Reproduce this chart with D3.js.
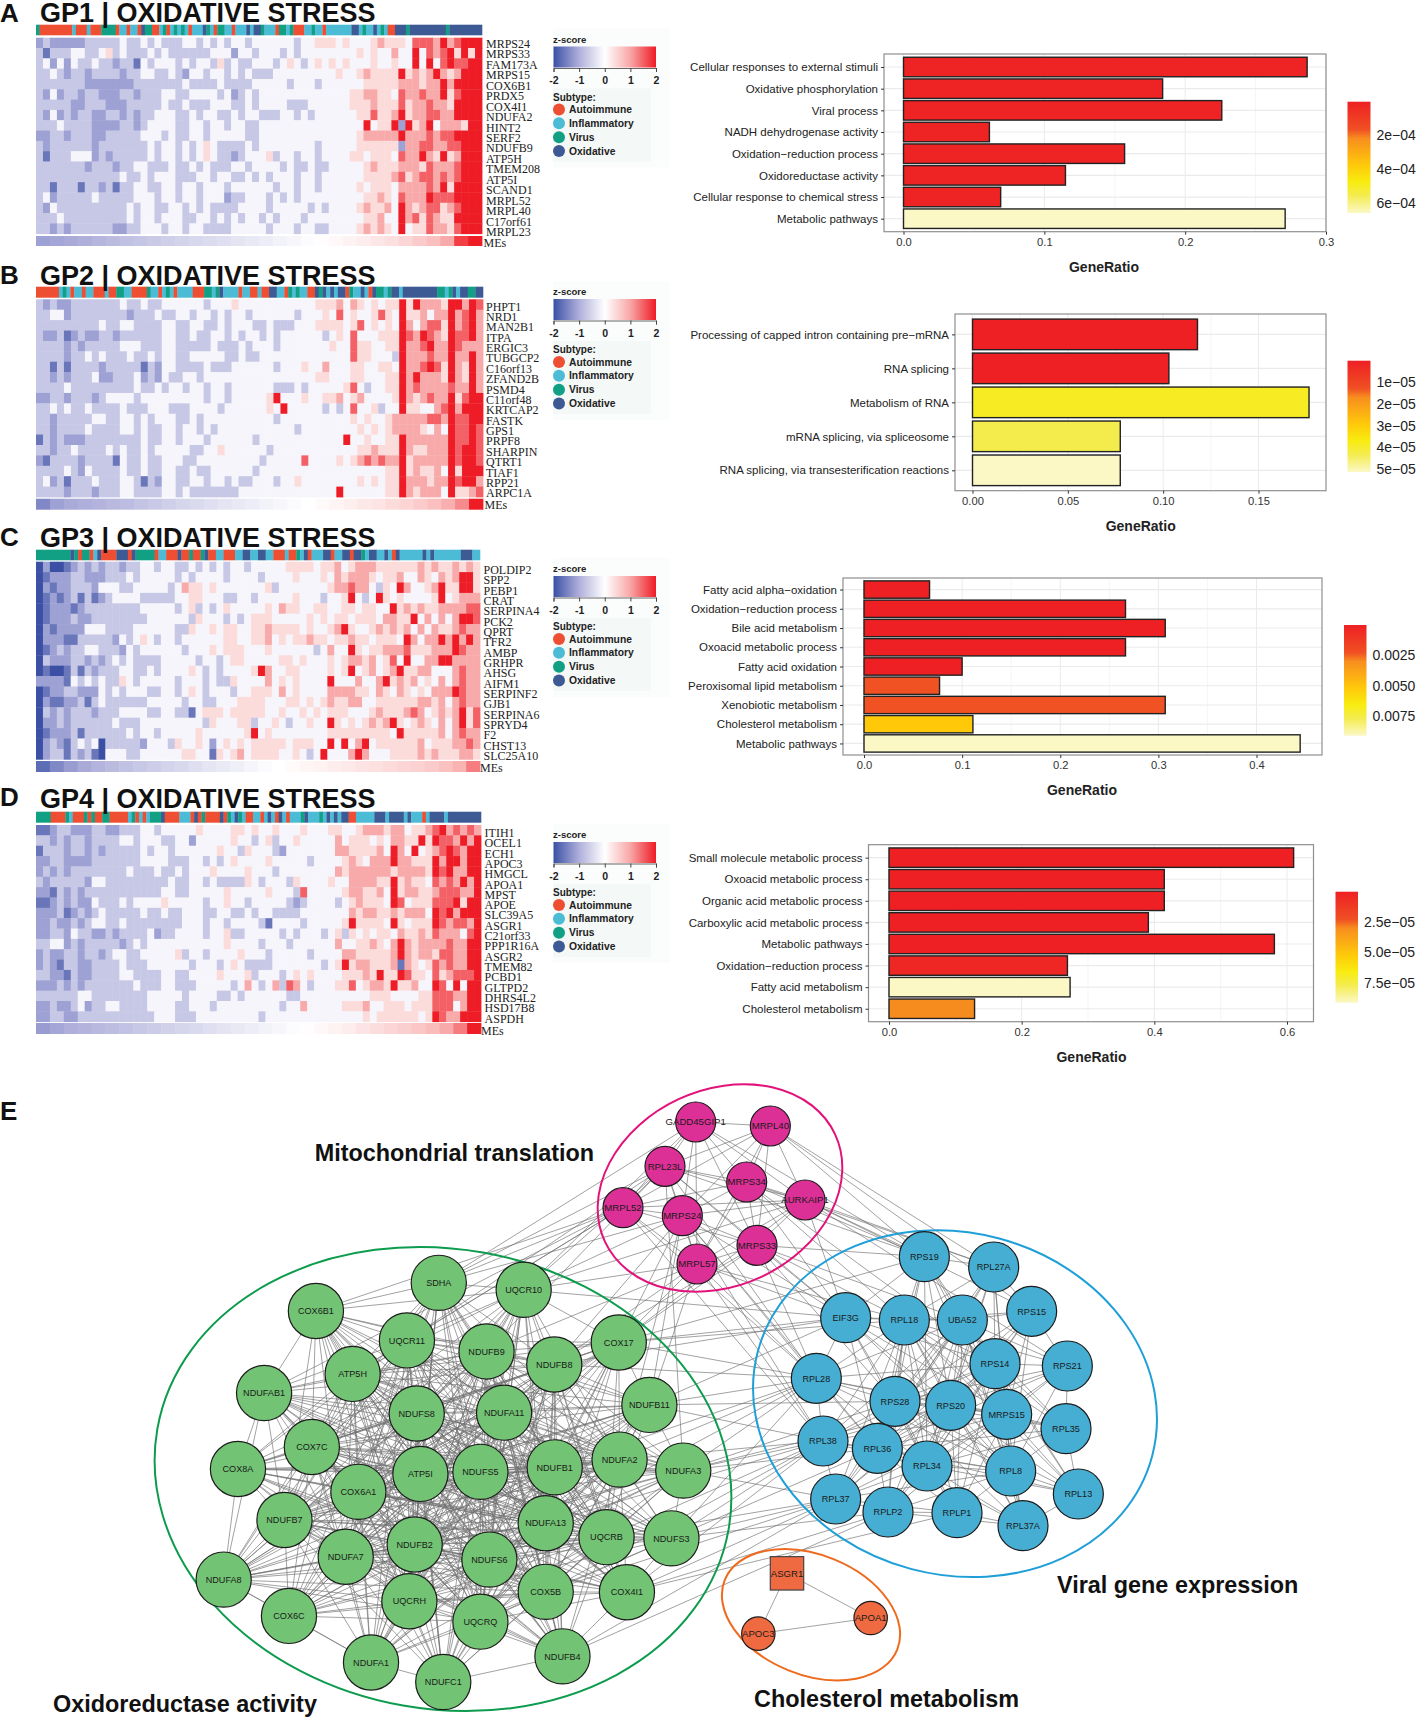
<!DOCTYPE html>
<html><head><meta charset="utf-8">
<script src="https://cdn.jsdelivr.net/npm/d3@7/dist/d3.min.js"></script>
<style>html,body{margin:0;padding:0;background:#fff}svg{display:block}text{font-family:"Liberation Sans",Arial,sans-serif}</style>
</head><body><svg id="c" width="1420" height="1723"></svg>
<script>
// ---------- heatmap data: digits 0..8 index levels of z-score (see zLevels); spaces are only for reading ----------
const zLevels=[-2,-1.6,-1.15,-.7,-.12,.4,.95,1.5,2];
const genesA=["MRPS24","MRPS33","FAM173A","MRPS15","COX6B1","PRDX5","COX4I1","NDUFA2","HINT2","SERF2","NDUFB9","ATP5H","TMEM208","ATP5I","SCAND1","MRPL52","MRPL40","C17orf61","MRPL23"];
const genesB=["PHPT1","NRD1","MAN2B1","ITPA","ERGIC3","TUBGCP2","C16orf13","ZFAND2B","PSMD4","C11orf48","KRTCAP2","FASTK","GPS1","PRPF8","SHARPIN","QTRT1","TIAF1","RPP21","ARPC1A"];
const genesC=["POLDIP2","SPP2","PEBP1","CRAT","SERPINA4","PCK2","QPRT","TFR2","AMBP","GRHPR","AHSG","AIFM1","SERPINF2","GJB1","SERPINA6","SPRYD4","F2","CHST13","SLC25A10"];
const genesD=["ITIH1","OCEL1","ECH1","APOC3","HMGCL","APOA1","MPST","APOE","SLC39A5","ASGR1","C21orf33","PPP1R16A","ASGR2","TMEM82","PCBD1","GLTPD2","DHRS4L2","HSD17B8","ASPDH"];
const heatA=[
"2322222333 3343343433 3443434344 3444444344 5554544456 5554777686 7888",
"3133344334 5343334343 3333344424 4344434344 4444445454 4644847678 5858",
"3424243343 3233143444 3434435343 3444345434 5454544454 4544848478 7788",
"3343233233 3323344334 3244344343 4333444444 4445445655 5585656865 6888",
"3333333222 2222333333 3433334333 3444443444 3444444555 5566656686 8888",
"3242332332 2233233344 3344443423 4344444444 4444455665 5476676685 7888",
"3333322333 2223333343 3433344433 4344443334 4444455565 5575667665 8888",
"3242323322 3323233444 3343443343 4433344343 4444445575 5685667766 8888",
"3334333322 2233234444 3344344344 3344444444 4444444845 5828568466 6588",
"2233233322 3333344434 3344344444 3344444444 4444445666 6686667677 8888",
"3233333323 3333334344 3434543333 4344444444 3444445555 5526677667 7888",
"3133344423 2333334344 3434543323 4445344344 3444455455 5476686585 6888",
"3333333233 3233443334 3343433344 3444434334 3344444565 5566657666 7888",
"3333333333 3343343444 3334434433 4343444344 3444444555 5675677676 7888",
"3313331332 3133443344 3443444344 4444344344 3444445455 5466667685 8888",
"3423333343 3333444344 3443444233 4443434344 4444444556 5476668777 8888",
"3243333333 3334344334 4343433334 4443444443 4344445655 6486567756 7888",
"3334333333 3334344344 4334434343 4434344434 4444444556 4486757655 8888",
"3323233333 3223344434 4344333344 4443444344 3344445656 5484557665 7888"];
const heatB=[
"3232233333 3343343344 4444344454 4444444444 5556465454 5585866658 8687",
"3344233333 3332333433 4434434344 3444444344 4547454457 5485564668 6786",
"3333333334 3344333344 3344334344 4334333444 5555457454 5486467758 6786",
"3223123223 3233333344 3343344343 4434344444 4345474445 5587687658 7786",
"3333232333 3344433344 3333343334 3444344444 4454475544 5586678668 7666",
"3333233434 3334334344 3344444334 3344444444 4444475544 4386667668 6686",
"3313133332 3333313244 3333433344 4444344454 4644455445 5486678758 6586",
"3323233342 2333423243 3443444444 4444444444 5544455444 5586866658 6586",
"3333433333 3333433434 4344344344 4444333434 4444574344 5586766667 6686",
"2233233323 4444344444 4444344344 4445844454 4556456444 4586567668 5788",
"3343433433 3343334443 3344443444 4445484444 4343474453 4485544678 6888",
"3323333344 3344343444 3343444444 4444344444 4444454544 5666667768 7788",
"3323333433 3344343344 3443434444 4444444344 4444445454 5666654648 7787",
"1323222333 3333343344 3444344444 4344444444 4444844544 5586666668 7787",
"3323343333 4343343444 4433445444 4443444444 4444445565 5586556668 7887",
"2133332333 3143343344 4334444444 4434444474 4445456767 6685666668 7887",
"3333432433 3343343344 3343344444 4344444444 4444444444 5585655648 5888",
"3423133343 3344313244 3344344343 3444344544 4444445454 5586665668 7886",
"3333233323 3344333344 3433333334 4444444444 4448444444 5586566648 5567"];
const heatC=[
"0200123232 3323344344 3343434344 3444445555 4556456665 5555565655 6565",
"0122233222 3334344444 3434444344 4434444544 4546566654 5564465465 6885",
"0212233324 4433444443 4655454444 4445344444 4456676643 5486445685 5885",
"0121231312 3444433333 4455444334 4344444544 4344584348 5454444584 5666",
"0122212333 3333344444 3453434544 4445465544 5544554554 4856565566 6677",
"0122232233 3333334444 4435444343 4555444445 4545545554 6655846464 6887",
"0212222444 3333444444 3354454554 4556555545 4456854456 5656464655 6766",
"0222113333 3243454344 3444444554 4556454556 5545565545 5548646686 8686",
"0123233443 3324344444 4344454555 4445444444 3464485455 6667555666 8766",
"0322233232 3434333344 4443443455 4444455454 4454566564 5748446688 6666",
"0100131323 3344334344 4454343444 4586445544 4454584564 5685566444 6766",
"2222143434 3354344444 3444343354 4446454544 4484446446 8565645464 6766",
"0122332224 3434443344 3454344434 4555464544 4466665546 5465454666 8766",
"0211223134 3333334444 4344334445 5554445545 4565566445 5555566564 6766",
"0323233323 3344443344 3314555455 5554454454 5455544456 5556764565 6857",
"0223233333 3433344444 4444354445 5344543445 4485454565 6854565464 6857",
"0122231333 3334344344 4445444444 5845444444 4455555555 5485555564 6766",
"0232134340 3333324443 5445424545 4555554555 4484846845 5555564555 6676",
"0233132310 4443344444 4554415456 4555544543 4844468644 4555565655 5665"];
const heatD=[
"1123322233 2233344344 4445444455 4544544454 4455445666 5664556786 7676",
"3323233233 3344344433 4424444454 4345344544 4446455545 4665585877 6868",
"1333233232 3333343443 4444445443 5444324444 4446655556 4864845678 7688",
"2233222233 3333344443 3344343454 4445444443 4444565466 6866555868 8688",
"2323233333 3334333433 4344454444 5444344444 4446566666 6566665878 6688",
"3233333244 3333333334 3344343333 5434443544 4454466665 5856554767 6868",
"2213232333 3333333344 3344444544 4445444374 4444566556 4856655677 7668",
"1123232243 3343444454 4444344544 3444443234 4443456555 4874555777 8588",
"2223123234 3333343343 3444334433 4344333344 4444465665 5656664878 6888",
"2232232344 3343333333 3444344344 4431444434 4444585555 4854555876 7768",
"2233243322 3233334233 4444344533 4444434344 4345354545 5465565766 6478",
"3344232333 3323434444 4444444544 4434443444 4446445565 4686566667 6688",
"2322332332 3443344444 5344344445 4443444443 4444665555 5686566577 6688",
"2321332233 3343334444 4434443454 3333444444 4345856655 5616545767 6688",
"3322132233 3344333344 3344445444 5344434545 4444555658 5587554756 7778",
"2223232333 3333433344 3334444434 6434637643 4445574566 5855644874 8488",
"3333334433 3333334444 4344443343 4444443344 4444444455 5444455777 6688",
"2232234233 4433334444 3344434444 4444434464 4444555644 5554555777 4688",
"2233223333 3333333444 3334444444 4434444444 4444444545 5555545876 6888"];
// eigengene strip, left to right
const meA=[-1.15,-1.1,-1.05,-1,-.92,-.85,-.78,-.72,-.66,-.6,-.55,-.5,-.45,-.4,-.34,-.28,-.22,-.16,-.1,-.04,.02,.08,.14,.2,.28,.36,.46,.58,.72,.95,1.75,2];
const meB=[-1.4,-1.15,-1.05,-1,-.95,-.88,-.82,-.75,-.68,-.6,-.52,-.46,-.4,-.34,-.28,-.22,-.16,-.1,-.05,0,.06,.12,.18,.26,.32,.4,.48,.58,.72,.9,1.2,2];
const meC=[-1.7,-1.4,-1.2,-1.05,-.95,-.85,-.78,-.7,-.62,-.55,-.48,-.4,-.33,-.26,-.2,-.12,-.05,0,.05,.1,.15,.2,.25,.3,.35,.4,.46,.52,.6,.7,.85,1.3];
const meD=[-1.2,-1.1,-1,-.95,-.88,-.82,-.76,-.7,-.64,-.58,-.52,-.46,-.4,-.34,-.28,-.22,-.16,-.1,-.04,.02,.08,.14,.2,.3,.38,.46,.54,.64,.76,.95,1.3,2];
// subtype annotation: run-length code per strip
const subA="V1 A9 I1 A3 I1 A3 V4 A1 I2 A1 I2 A1 O1 V2 A2 I1 V1 A1 I1 V1 I1 V1 I1 A1 I3 O1 V1 I1 A1 V2 I2 A1 I3 O1 I1 O2 V1 I3 A1 V2 I1 V1 A3 I2 V1 I2 A1 I7 O2 I1 V1 I2 O1 I1 V1 I1 A2 O3 V1 O10 V1 O9";
const subB="A6 I1 V1 I1 A1 I2 A1 I2 A3 I1 A2 V2 I2 A4 V1 I2 A1 I1 V1 I1 A1 I4 A3 V2 I1 V1 O1 I4 A1 I2 A2 I1 A2 O2 I2 A1 V1 I1 V1 I2 A2 O1 V1 O1 I1 O1 I1 O2 A1 V1 I2 O1 I1 A1 O1 V2 I1 V1 O2 I1 O9 V2 I1 V1 O1 I1 O2 V2 O2";
const subC="V9 O1 V1 A1 V2 A1 I1 O1 A4 O3 A1 O1 V5 A1 I2 A3 O1 A2 V1 A2 V1 O1 A2 I2 A3 I2 O2 I2 O2 I2 A3 I1 A2 V1 I1 O1 A1 I3 O2 A1 I2 O2 A1 O2 V1 I1 O2 I2 O1 I1 A1 O1 I6 O1 I1 O1 I7 O3 I2";
const subD="V4 A4 V1 I1 A3 V1 A1 V1 A2 V2 A5 I1 V1 A1 I1 A1 I1 V3 O1 A4 I3 A1 O1 A1 V1 A4 O1 A1 V1 I1 O1 V1 I1 A2 I2 A1 I1 O1 I1 A1 O1 I1 A1 I3 V1 O1 I3 V1 I1 O1 I1 O1 I1 O2 A2 I5 O3 I1 O4 I1 O1 I3 A1 I1 O4 I1 O9";
const subtypeNames=["Autoimmune","Inflammatory","Virus","Oxidative"];
const zTicks=[-2,-1,0,1,2];
// ---------- bar chart data ----------
const termsA=["Cellular responses to external stimuli","Oxidative phosphorylation","Viral process","NADH dehydrogenase activity","Oxidation−reduction process","Oxidoreductase activity","Cellular response to chemical stress","Metabolic pathways"];
const ratioA=[.2866,.184,.226,.061,.157,.115,.069,.271];
const pA=[1e-5,1e-5,1e-5,1e-5,1e-5,1e-5,1e-5,6.6e-4];
const termsB=["Processing of capped intron containing pre−mRNA","RNA splicing","Metabolism of RNA","mRNA splicing, via spliceosome","RNA splicing, via transesterification reactions"];
const ratioB=[.118,.103,.1765,.0775,.0775];
const pB=[1e-7,1e-7,3.9e-5,4.3e-5,5.14e-5];
const termsC=["Fatty acid alpha−oxidation","Oxidation−reduction process","Bile acid metabolism","Oxoacid metabolic process","Fatty acid oxidation","Peroxisomal lipid metabolism","Xenobiotic metabolism","Cholesterol metabolism","Metabolic pathways"];
const ratioC=[.0668,.2665,.307,.2665,.1,.077,.307,.111,.4445];
const pC=[1e-5,1e-5,1e-5,1e-5,1e-5,.0023,.0023,.0052,.0091];
const termsD=["Small molecule metabolic process","Oxoacid metabolic process","Organic acid metabolic process","Carboxylic acid metabolic process","Metabolic pathways","Oxidation−reduction process","Fatty acid metabolism","Cholesterol metabolism"];
const ratioD=[.61,.415,.415,.391,.581,.269,.273,.129];
const pD=[1e-7,1e-7,1e-7,1e-7,1e-7,3e-6,9.15e-5,3e-5];
// ---------- network: layout units ----------
const greenN=[["SDHA",732,497],["UQCR10",940,514],["COX6B1",431,566],["UQCR11",654,638],["NDUFB9",849,665],["NDUFB8",1015,697],["COX17",1173,643],["ATP5H",521,720],["NDUFAB1",304,767],["NDUFS8",678,817],["NDUFA11",892,815],["NDUFB11",1248,796],["COX7C",421,899],["COX8A",240,953],["ATP5I",687,965],["NDUFS5",834,960],["NDUFB1",1016,949],["NDUFA2",1175,930],["NDUFA3",1331,957],["COX6A1",535,1009],["NDUFB7",354,1078],["NDUFA13",994,1086],["UQCRB",1143,1120],["NDUFS3",1302,1123],["NDUFB2",673,1138],["NDUFA7",504,1168],["NDUFS6",856,1175],["NDUFA8",205,1224],["COX5B",994,1254],["COX4I1",1193,1255],["UQCRH",660,1277],["COX6C",365,1313],["UQCRQ",834,1327],["NDUFB4",1035,1412],["NDUFA1",566,1427],["NDUFC1",743,1475]];
const magentaN=[["GADD45GIP1",467,186],["MRPL40",691,198],["RPL23L",375,319],["MRPS34",620,366],["AURKAIP1",795,420],["MRPL52",249,443],["MRPS24",427,467],["MRPS33",651,556],["MRPL57",471,612]];
const blueN=[["RPS19",673,170],["RPL27A",881,201],["RPS15",995,334],["EIF3G",437,353],["RPL18",613,360],["UBA52",787,360],["RPS14",885,491],["RPS21",1102,498],["RPL28",349,535],["RPS28",585,604],["RPS20",752,616],["MRPS15",920,643],["RPL35",1098,686],["RPL38",369,723],["RPL36",532,745],["RPL34",681,798],["RPL8",932,813],["RPL13",1135,882],["RPL37",407,897],["RPLP2",564,936],["RPLP1",771,938],["RPL37A",969,977]];
const orangeCircles=[["APOC3",175,1301],["APOA1",512,1254]];
const orangeSquare=["ASGR1",261,1120];
const greenRim=["SDHA","UQCR10","COX6B1","NDUFAB1","COX8A","NDUFA8","COX6C","NDUFA1","NDUFC1","NDUFB4","COX4I1","NDUFS3","NDUFA3","COX17","NDUFB11"];
const blueRim=["RPS19","RPL27A","RPS15","EIF3G","RPL28","RPL38","RPL37","RPLP2","RPLP1","RPL37A","RPL13","RPL35","RPS21"];
const rimEdges=[["SDHA","UQCR10"],["SDHA","COX6B1"],["COX6B1","NDUFAB1"],["NDUFAB1","COX8A"],["COX8A","NDUFA8"],["NDUFA8","COX6C"],["COX6C","NDUFA1"],["NDUFA1","NDUFC1"],["NDUFC1","NDUFB4"],["NDUFB4","COX4I1"],["COX4I1","NDUFS3"],["NDUFS3","NDUFA3"],["NDUFA3","NDUFB11"],["NDUFB11","COX17"],["COX17","UQCR10"],["NDUFA8","NDUFA1"],["NDUFA8","NDUFAB1"],["COX6B1","UQCR10"],
["RPS19","RPL27A"],["RPL27A","RPS15"],["RPS15","RPS21"],["RPS21","RPL35"],["RPL35","RPL13"],["RPL13","RPL37A"],["RPL37A","RPLP1"],["RPLP1","RPLP2"],["RPLP2","RPL37"],["RPL37","RPL38"],["RPL38","RPL28"],["RPL28","EIF3G"],["EIF3G","RPS19"],["RPL37","RPLP1"],["RPLP2","RPL37A"]];
const crossEdges=[
["MRPL52",["COX6B1","NDUFAB1","SDHA","UQCR11","ATP5H","RPL28","RPL38"]],
["RPL23L",["SDHA","UQCR10","UQCR11","NDUFB9","NDUFA3","EIF3G","RPS19","RPL28"]],
["MRPS24",["UQCR10","SDHA","NDUFB8","COX17","NDUFB11","NDUFA2","RPL28","EIF3G","RPL38","RPL36"]],
["MRPL57",["UQCR10","NDUFB9","NDUFB8","COX17","NDUFB11","EIF3G","RPL28","RPL38","RPL18"]],
["GADD45GIP1",["SDHA","UQCR10","RPS19"]],
["MRPS33",["COX17","NDUFB8","EIF3G","RPL18","RPS19","RPL28","RPS28","UBA52"]],
["AURKAIP1",["UQCR10","COX17","RPS19","RPL27A","EIF3G","RPS15","RPS21"]],
["MRPL40",["RPS19","RPL27A","RPS15"]],
["MRPS34",["RPS19","EIF3G","RPL18","RPS14","RPL27A"]],
["COX17",["EIF3G","RPL28","RPS19","RPL18"]],
["NDUFB8",["RPL28","EIF3G"]],
["NDUFB11",["RPL28","EIF3G","RPS28","RPL38"]],
["NDUFA2",["RPL28","RPL38"]],
["NDUFA3",["RPL28","RPL38","RPL36","RPS28","RPL37","RPS20"]],
["NDUFS3",["RPL38","RPL37","RPL28","RPL36","RPLP2"]],
["UQCRB",["RPL37","RPL38"]],
["COX4I1",["RPL37","RPLP2","RPL38","RPLP1"]],
["NDUFB4",["RPL37","RPLP2"]],
["COX5B",["RPL37","RPL38"]],
["NDUFA13",["RPL38","RPL28"]],
["NDUFB1",["RPL28"]],
["UQCR10",["EIF3G"]]];
const orangeEdges=[["ASGR1","APOC3"],["ASGR1","APOA1"],["APOC3","APOA1"]];

// ---------- layout (not data) ----------
const heatLayout=[
 {letter:"A",ly:22,title:"GP1 | OXIDATIVE STRESS",ty:22,x0:36,x1:482,s0:24.7,s1:35.3,h0:37.7,h1:233.7,m0:236,m1:246,genes:genesA,heat:heatA,me:meA,sub:subA,lx:486,l0:44,l1:232,mx:483.5,my:243,lg:46.5},
 {letter:"B",ly:284,title:"GP2 | OXIDATIVE STRESS",ty:285,x0:36,x1:483,s0:286.7,s1:297.7,h0:299.3,h1:497,m0:498.7,m1:509.7,genes:genesB,heat:heatB,me:meB,sub:subB,lx:486,l0:306.6,l1:493.4,mx:484.6,my:505.5,lg:299},
 {letter:"C",ly:546,title:"GP3 | OXIDATIVE STRESS",ty:547,x0:36,x1:480,s0:549.7,s1:560.3,h0:561.7,h1:759.3,m0:761,m1:772,genes:genesC,heat:heatC,me:meC,sub:subC,lx:483.5,l0:570,l1:756,mx:480,my:768,lg:576},
 {letter:"D",ly:806,title:"GP4 | OXIDATIVE STRESS",ty:808,x0:36,x1:481,s0:811.7,s1:822.7,h0:825,h1:1021.7,m0:1023,m1:1034,genes:genesD,heat:heatD,me:meD,sub:subD,lx:484.6,l0:833,l1:1018.7,mx:481,my:1030.7,lg:842}];
const barLayout=[
 {terms:termsA,ratio:ratioA,p:pA,pl:884,pr:1326,pt:54,pb:231.7,x0:903.5,xT:1326,tMax:.3,ticks:[0,.1,.2,.3],fmt:".1f",minors:[.05,.15,.25],cb:[1347.5,1370.5,101.7,213],cbMax:6.6e-4,cbTicks:[2e-4,4e-4,6e-4],cbLab:["2e−04","4e−04","6e−04"],gx:1104,gy:266.7},
 {terms:termsB,ratio:ratioB,p:pB,pl:955,pr:1326,pt:314,pb:490.7,x0:972.5,xT:1258.5,tMax:.15,ticks:[0,.05,.1,.15],fmt:".2f",minors:[.025,.075,.125],cb:[1347.5,1370.5,360.7,472],cbMax:5.14e-5,cbTicks:[1e-5,2e-5,3e-5,4e-5,5e-5],cbLab:["1e−05","2e−05","3e−05","4e−05","5e−05"],gx:1140.7,gy:525.7},
 {terms:termsC,ratio:ratioC,p:pC,pl:843,pr:1322,pt:578,pb:755,x0:864,xT:1256.5,tMax:.4,ticks:[0,.1,.2,.3,.4],fmt:".1f",minors:[.05,.15,.25,.35],cb:[1344,1366.5,625,735.7],cbMax:.0091,cbTicks:[.0025,.005,.0075],cbLab:["0.0025","0.0050","0.0075"],gx:1082,gy:790},
 {terms:termsD,ratio:ratioD,p:pD,pl:868.5,pr:1313.5,pt:844.7,pb:1021.7,x0:889,xT:1287,tMax:.6,ticks:[0,.2,.4,.6],fmt:".1f",minors:[.1,.3,.5],cb:[1335.5,1358,891.7,1002.7],cbMax:9.15e-5,cbTicks:[2.5e-5,5e-5,7.5e-5],cbLab:["2.5e−05","5.0e−05","7.5e−05"],gx:1091.5,gy:1056.7}];
const subCol={A:"#ee4f33",I:"#4cbcd6",V:"#12a085",O:"#3d5a94"};
const zCol=d3.scaleLinear().domain([-2,-1,0,1,2]).range(["#3a50a4","#afafdb","#ffffff","#f8a6a6","#ee1c25"]).clamp(true);
const pStops=[0,.25,.33,.57,.72,.84,1], pCols=["#ee2024","#f05023","#f78e1e","#ffc90a","#f8ec10","#f4ec4e","#fbf8c6"];
const pCol=d3.scaleLinear().domain(pStops).range(pCols).clamp(true);

const svg=d3.select("#c"), defs=svg.append("defs");
svg.append("rect").attr("width",1420).attr("height",1723).attr("fill","#fff");

// ---------- gradients, soft print look ----------
const zg=defs.append("linearGradient").attr("id","zg");
d3.range(0,1.001,.125).forEach(t=>zg.append("stop").attr("offset",t).attr("stop-color",zCol(-2+4*t)));
const pg=defs.append("linearGradient").attr("id","pg").attr("x1",0).attr("x2",0).attr("y1",0).attr("y2",1);
pStops.forEach((t,i)=>pg.append("stop").attr("offset",t).attr("stop-color",pCols[i]));
defs.append("filter").attr("id","soft").attr("x","-1%").attr("y","-1%").attr("width","102%").attr("height","102%").append("feGaussianBlur").attr("stdDeviation",.6);

// ---------- heatmap panels ----------
heatLayout.forEach(L=>{
 const g=svg.append("g");
 const runs=L.sub.split(" ").map(s=>({k:s[0],n:+s.slice(1)}));
 let c=0; runs.forEach(r=>{r.s=c;c+=r.n;});
 const sx=d3.scaleLinear().domain([0,c]).range([L.x0,L.x1]);
 g.selectAll(".s").data(runs).join("rect").attr("x",d=>sx(d.s)).attr("width",d=>sx(d.s+d.n)-sx(d.s)+.3).attr("y",L.s0).attr("height",L.s1-L.s0).attr("fill",d=>subCol[d.k]);
 const rows=L.heat.map(r=>r.replace(/ /g,"").split("").map(ch=>zLevels[+ch]));
 const nc=d3.max(rows,r=>r.length);
 const hx=d3.scaleBand().domain(d3.range(nc)).range([L.x0,L.x1]);
 const hy=d3.scaleBand().domain(L.genes).range([L.h0,L.h1]);
 const hg=g.append("g").attr("filter","url(#soft)");
 const rg=hg.selectAll(".r").data(rows).join("g").attr("transform",(d,i)=>`translate(0,${hy(L.genes[i])})`);
 rg.selectAll("rect").data(d=>d).join("rect").attr("x",(d,i)=>hx(i)).attr("width",hx.bandwidth()+.4).attr("height",hy.bandwidth()+.4).attr("fill",d=>zCol(d));
 const ml=d3.scaleBand().domain(d3.range(L.me.length)).range([L.x0,L.x1]);
 g.selectAll(".m").data(L.me).join("rect").attr("x",(d,i)=>ml(i)).attr("width",ml.bandwidth()+.4).attr("y",L.m0).attr("height",L.m1-L.m0).attr("fill",d=>zCol(d));
 const ly=d3.scalePoint().domain(L.genes).range([L.l0,L.l1]);
 g.selectAll(".t").data(L.genes).join("text").attr("x",L.lx).attr("y",d=>ly(d)).attr("dy",".33em").attr("fill","#222").style("font-family","'Liberation Serif',serif").style("font-size","12px").text(d=>d);
 g.append("text").attr("x",L.mx).attr("y",L.my).attr("dy",".33em").attr("fill","#222").style("font-family","'Liberation Serif',serif").style("font-size","12px").text("MEs");
 g.append("text").attr("x",40).attr("y",L.ty).attr("fill","#111").style("font-size","27px").style("font-weight","bold").text(L.title);
 g.append("text").attr("x",0).attr("y",L.ly).attr("fill","#111").style("font-size","26px").style("font-weight","bold").text(L.letter);
 // legend
 const T=L.lg;
 g.append("rect").attr("x",553).attr("y",T-18).attr("width",117).attr("height",139).attr("fill","#fbfcfc");
 g.append("rect").attr("x",553).attr("y",T+42).attr("width",98).attr("height",73).attr("fill","#f4f8f7");
 g.append("text").attr("x",553).attr("y",T-4).attr("fill","#222").style("font-size","9.5px").style("font-weight","bold").text("z-score");
 const zx=d3.scaleLinear().domain([-2,2]).range([553.5,656]);
 g.append("rect").attr("x",553.5).attr("y",T).attr("width",102.5).attr("height",21).attr("fill","url(#zg)");
 const ax=g.append("g").attr("transform",`translate(0,${T+21.5})`).call(d3.axisBottom(zx).tickValues(zTicks).tickSize(4).tickPadding(5).tickFormat(d3.format("d")));
 ax.select(".domain").attr("stroke","#666");
 ax.selectAll("text").attr("fill","#222").style("font-size","10.5px").style("font-weight","bold").text(d=>d);
 ax.selectAll("line").attr("stroke","#444");
 g.append("text").attr("x",553).attr("y",T+54).attr("fill","#222").style("font-size","10px").style("font-weight","bold").text("Subtype:");
 const cy=d3.scalePoint().domain(subtypeNames).range([T+63,T+104.5]);
 ["A","I","V","O"].forEach((k,i)=>{
  g.append("circle").attr("cx",559).attr("cy",cy(subtypeNames[i])).attr("r",6).attr("fill",subCol[k]);
  g.append("text").attr("x",569).attr("y",cy(subtypeNames[i])).attr("dy",".35em").attr("fill","#222").style("font-size","10.3px").style("font-weight","bold").text(subtypeNames[i]);
 });
});

// ---------- bar panels ----------
barLayout.forEach(B=>{
 const g=svg.append("g");
 const x=d3.scaleLinear().domain([0,B.tMax]).range([B.x0,B.xT]);
 const n=B.terms.length, step=(B.pb-B.pt)/(n-1+1.2);
 const y=d3.scalePoint().domain(B.terms).range([B.pt+.6*step,B.pb-.6*step]);
 g.selectAll(".mg").data(B.minors).join("line").attr("x1",d=>x(d)).attr("x2",d=>x(d)).attr("y1",B.pt).attr("y2",B.pb).attr("stroke","#f1f1f1").attr("stroke-width",.7);
 g.selectAll(".vg").data(B.ticks).join("line").attr("x1",d=>x(d)).attr("x2",d=>x(d)).attr("y1",B.pt).attr("y2",B.pb).attr("stroke","#ebebeb").attr("stroke-width",1);
 g.selectAll(".hg").data(B.terms).join("line").attr("x1",B.pl).attr("x2",B.pr).attr("y1",d=>y(d)).attr("y2",d=>y(d)).attr("stroke","#ebebeb").attr("stroke-width",1.2);
 g.selectAll(".b").data(B.terms).join("rect").attr("x",x(0)).attr("y",d=>y(d)-.45*step).attr("width",(d,i)=>x(B.ratio[i])-x(0)).attr("height",.9*step).attr("fill",(d,i)=>pCol(B.p[i]/B.cbMax)).attr("stroke","#222").attr("stroke-width",1.4);
 g.append("rect").attr("x",B.pl).attr("y",B.pt).attr("width",B.pr-B.pl).attr("height",B.pb-B.pt).attr("fill","none").attr("stroke","#8f8f8f").attr("stroke-width",1.2);
 const ax=g.append("g").attr("transform",`translate(0,${B.pb})`).call(d3.axisBottom(x).tickValues(B.ticks).tickSize(3).tickPadding(3).tickFormat(d3.format(B.fmt)));
 ax.select(".domain").remove(); ax.selectAll("line").attr("stroke","#333");
 ax.selectAll("text").attr("fill","#333").style("font-size","11.2px");
 const ay=g.append("g").attr("transform",`translate(${B.pl},0)`).call(d3.axisLeft(y).tickSize(3).tickPadding(3));
 ay.select(".domain").remove(); ay.selectAll("line").attr("stroke","#333");
 ay.selectAll("text").attr("fill","#222").style("font-size","11.5px");
 g.append("text").attr("x",B.gx).attr("y",B.gy).attr("dy",".35em").attr("text-anchor","middle").attr("fill","#222").style("font-size","14px").style("font-weight","bold").text("GeneRatio");
 g.append("rect").attr("x",B.cb[0]).attr("y",B.cb[2]).attr("width",B.cb[1]-B.cb[0]).attr("height",B.cb[3]-B.cb[2]).attr("fill","url(#pg)");
 const cs=d3.scaleLinear().domain([0,B.cbMax]).range([B.cb[2],B.cb[3]]);
 g.selectAll(".cl").data(B.cbTicks).join("text").attr("x",B.cb[1]+6).attr("y",d=>cs(d)).attr("dy",".35em").attr("fill","#222").style("font-size","14px").text((d,i)=>B.cbLab[i]);
});

// ---------- network ----------
const gx=d3.scaleLinear().domain([0,1568]).range([140,780]), gy=d3.scaleLinear().domain([0,1568]).range([1080,1720]);
const mx=d3.scaleLinear().domain([0,960]).range([540,860]), my=d3.scaleLinear().domain([0,780]).range([1060,1320]);
const bx=d3.scaleLinear().domain([0,1440]).range([700,1180]), by=d3.scaleLinear().domain([0,1560]).range([1200,1720]);
const pos={};
greenN.forEach(d=>pos[d[0]]={x:gx(d[1]),y:gy(d[2])});
magentaN.forEach(d=>pos[d[0]]={x:mx(d[1]),y:my(d[2])});
blueN.forEach(d=>pos[d[0]]={x:bx(d[1]),y:by(d[2])});
orangeCircles.forEach(d=>pos[d[0]]={x:bx(d[1]),y:by(d[2])});
pos[orangeSquare[0]]={x:bx(orangeSquare[1]),y:by(orangeSquare[2])};

const edges=[];
function clique(list,rim){list.forEach((a,i)=>list.slice(i+1).forEach(b=>{if(!(rim.includes(a[0])&&rim.includes(b[0])))edges.push([a[0],b[0]]);}));}
clique(greenN,greenRim); clique(blueN,blueRim); clique(magentaN,[]);
rimEdges.forEach(e=>edges.push(e));
crossEdges.forEach(([a,l])=>l.forEach(b=>edges.push([a,b])));
orangeEdges.forEach(e=>edges.push(e));
svg.append("g").selectAll("line").data(edges).join("line")
 .attr("x1",d=>pos[d[0]].x).attr("y1",d=>pos[d[0]].y).attr("x2",d=>pos[d[1]].x).attr("y2",d=>pos[d[1]].y)
 .attr("stroke","#707070").attr("stroke-opacity",.65).attr("stroke-width",1);

const ell=[{c:[443,1479],r:[290,230],a:10,s:"#0d9b4d"},{c:[720,1188],r:[127,98],a:-25,s:"#e2127b"},{c:[955,1403.7],r:[204,171],a:15,s:"#1f9fd8"},{c:[811,1614.7],r:[93,60],a:22,s:"#ee6a1f"}];
svg.append("g").selectAll("ellipse").data(ell).join("ellipse").attr("cx",0).attr("cy",0).attr("rx",d=>d.r[0]).attr("ry",d=>d.r[1])
 .attr("transform",d=>`translate(${d.c}) rotate(${d.a})`).attr("fill","none").attr("stroke",d=>d.s).attr("stroke-width",2);

function nodes(list,r,fill,fs){
 const g=svg.append("g");
 g.selectAll("circle").data(list).join("circle").attr("cx",d=>pos[d[0]].x).attr("cy",d=>pos[d[0]].y).attr("r",r).attr("fill",fill).attr("stroke","#1c1c1c").attr("stroke-width",1.2);
 g.selectAll("text").data(list).join("text").attr("x",d=>pos[d[0]].x).attr("y",d=>pos[d[0]].y).attr("dy",".35em").attr("text-anchor","middle").attr("fill","#1a1a1a").style("font-size",fs+"px").text(d=>d[0]);
}
nodes(greenN,27.6,"#72c373",9.1);
nodes(magentaN,20,"#dd3097",9.6);
nodes(blueN,25,"#46aed2",9.1);
nodes(orangeCircles,16.7,"#ef6a40",9.6);
{const p=pos[orangeSquare[0]];
 svg.append("rect").attr("x",p.x-16.7).attr("y",p.y-16.7).attr("width",33.4).attr("height",33.4).attr("fill","#ef6a40").attr("stroke","#444").attr("stroke-width",1.2);
 svg.append("text").attr("x",p.x).attr("y",p.y).attr("dy",".35em").attr("text-anchor","middle").attr("fill","#1a1a1a").style("font-size","9.6px").text(orangeSquare[0]);}

const groupLabels=[["Mitochondrial translation",314.7,1152.6],["Oxidoreductase activity",53,1704],["Viral gene expression",1057,1585],["Cholesterol metabolism",754,1699]];
svg.append("g").selectAll("text").data(groupLabels).join("text").attr("x",d=>d[1]).attr("y",d=>d[2]).attr("dy",".35em").attr("fill","#111").style("font-size","23.4px").style("font-weight","bold").text(d=>d[0]);
svg.append("text").attr("x",0).attr("y",1120).attr("fill","#111").style("font-size","26px").style("font-weight","bold").text("E");
</script></body></html>
